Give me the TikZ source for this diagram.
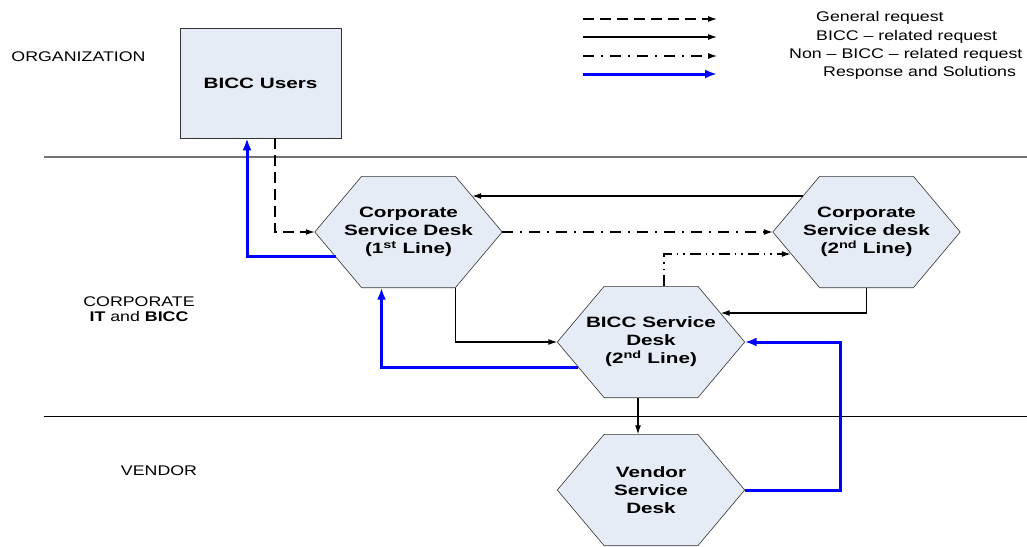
\documentclass[tikz,border=0pt]{standalone}
\usepackage{fontspec}
\setmainfont[FakeStretch=1.27]{Liberation Sans}
\newfontfamily\hexfont[FakeStretch=1.38]{Liberation Sans}
\usetikzlibrary{arrows.meta,calc,backgrounds}
\definecolor{boxfill}{RGB}{230,236,246}
\definecolor{respblue}{RGB}{0,0,255}
\tikzset{
  hexbox/.style={minimum width=187pt, minimum height=111pt, inner sep=0pt, align=center,
    font=\hexfont\bfseries\fontsize{15}{18}\selectfont},
  hexline/.style={draw=black!80, fill=boxfill, line width=0.6pt},
  conn/.style={draw=black, line width=1.2pt, -{Latex[length=9pt,width=6pt]}},
  gen/.style={conn, dash pattern=on 11pt off 6pt},
  nonb/.style={conn, dash pattern=on 11pt off 7pt on 2pt off 7pt},
  nonbb/.style={conn, dash pattern=on 11pt off 5pt on 1.5pt off 5pt on 1.5pt off 5pt},
  resp/.style={draw=respblue, line width=3pt, -{Latex[length=12pt,width=9pt]}},
  lbl/.style={font=\fontsize{14}{15}\selectfont, inner sep=0pt, align=center},
  leg/.style={font=\fontsize{14}{15}\selectfont, inner sep=0pt, anchor=west},
}
\newcommand{\drawhex}[1]{\path[hexline] (#1.west) -- ($(#1.north west)!0.25!(#1.north east)$) -- ($(#1.north west)!0.75!(#1.north east)$) -- (#1.east) -- ($(#1.south west)!0.75!(#1.south east)$) -- ($(#1.south west)!0.25!(#1.south east)$) -- cycle;}
\begin{document}
\begin{tikzpicture}[x=1pt,y=-1pt]
\useasboundingbox (0,0) rectangle (1027,546);
% separators
\coordinate (s1a) at (44,157); \coordinate (s1b) at (1027,157);
\coordinate (s2a) at (44,416); \coordinate (s2b) at (1027,416);
\draw[black!55, line width=1.2pt] (s1a) -- (s1b);
\draw[black, line width=1pt] (s2a) -- (s2b);
% region labels
\node[lbl] (org) at (78.5,57) {ORGANIZATION};
\node[lbl] (corp) at (139,309.5) {CORPORATE\\\textbf{IT} and \textbf{BICC}};
\node[lbl] (vend) at (159,471) {VENDOR};
% users box
\node[draw=black!80, fill=boxfill, line width=0.6pt, minimum width=161pt, minimum height=110pt,
  font=\hexfont\bfseries\fontsize{15}{18}\selectfont] (users) at (260.5,83) {BICC Users};
% hexagon nodes
\node[hexbox] (h1) at (408.5,232) {Corporate\\Service Desk\\(1\textsuperscript{st} Line)};
\node[hexbox] (h2) at (866.5,232) {Corporate\\Service desk\\(2\textsuperscript{nd} Line)};
\node[hexbox] (h3) at (651,342) {BICC Service\\Desk\\(2\textsuperscript{nd} Line)};
\node[hexbox] (h4) at (651,490) {Vendor\\Service\\Desk};
\begin{scope}[on background layer]
\drawhex{h1}\drawhex{h2}\drawhex{h3}\drawhex{h4}
\end{scope}
% connectors
\draw[gen] ($(users.south)+(14.5,0)$) |- (h1.west);
\draw[resp] ($(h1.west)+(21,24)$) -| ($(users.south)+(-13.5,0)$);
\draw[conn] ($(h2.west)+(30,-36)$) -- ($(h1.east)+(-30,-36)$);
\draw[nonb] (h1.east) -- (h2.west);
\draw[nonbb] ($(h3.north)+(13,0)$) |- ($(h2.west)+(18,22)$);
\draw[conn] (h2.south) |- ($(h3.east)+(-24,-29)$);
\draw[conn] ($(h1.south)+(46.75,0)$) |- (h3.west);
\draw[resp] ($(h3.west)+(21,25)$) -| ($(h1.south)+(-27,0)$);
\draw[conn] ($(h3.south)+(-13,0)$) -- ($(h4.north)+(-13,0)$);
\draw[resp] (h4.east) -- ++(96,0) |- (h3.east);
% legend
\coordinate (g1) at (583,19); \coordinate (g2) at (717,19);
\coordinate (b1) at (583,37); \coordinate (b2) at (717,37);
\coordinate (n1) at (583,56); \coordinate (n2) at (717,56);
\coordinate (r1) at (583,74); \coordinate (r2) at (717,74);
\draw[gen] (g1) -- (g2);
\draw[conn] (b1) -- (b2);
\draw[nonb] (n1) -- (n2);
\draw[resp] (r1) -- (r2);
\node[leg] (lg) at (816,18) {General request};
\node[leg] (lb) at (816,37) {BICC -- related request};
\node[leg] (ln) at (789,55) {Non -- BICC -- related request};
\node[leg] (lr) at (823,73) {Response and Solutions};
\end{tikzpicture}
\end{document}
